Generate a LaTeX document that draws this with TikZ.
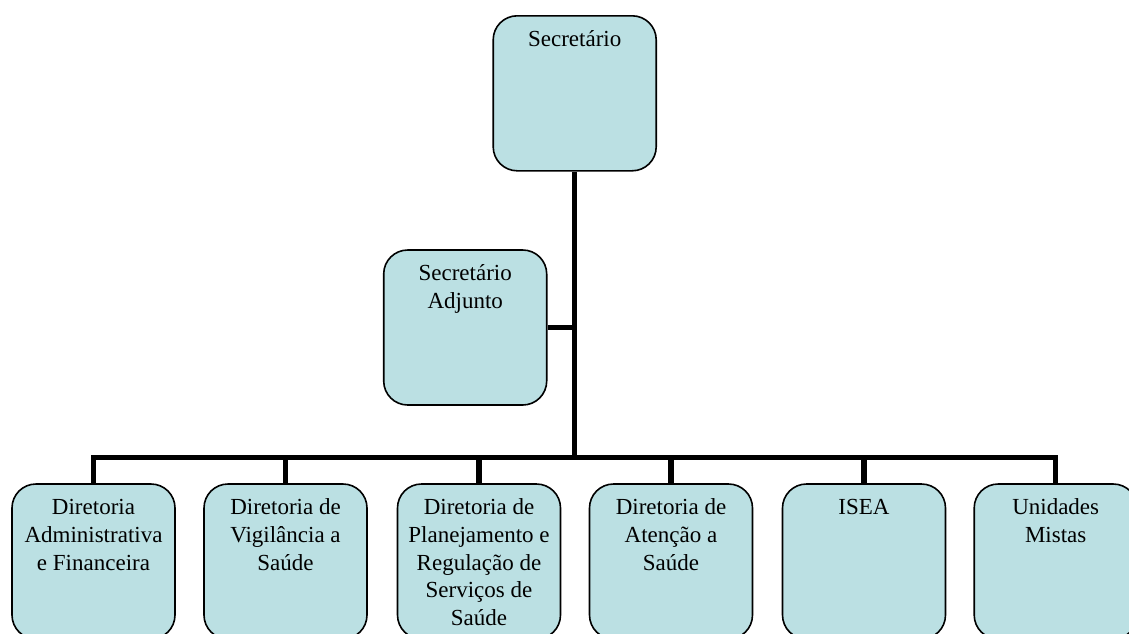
\documentclass[tikz,border=0pt]{standalone}
\usepackage{fontspec}
\setmainfont{Liberation Serif}
\definecolor{boxblue}{RGB}{187, 224, 227}
\tikzset{
    orgbox/.style={draw, line width=1.6pt, fill=boxblue, rounded corners=24pt,
        minimum width=163pt, minimum height=155pt, inner sep=0pt},
    orgtext/.style={anchor=north, align=center, inner sep=0pt, yshift=-12.2pt,
        font=\fontsize{23}{27.6}\selectfont},
    link/.style={line width=5.5pt}
}

\begin{document}
\begin{tikzpicture}[x=1pt, y=-1pt]
            \useasboundingbox (0, 0) rectangle (1129, 633);

            \node[orgbox] (sec) at (574.7, 93.3) {};
            \node[orgtext] (sectxt) at (sec.north) {\strut Secretário};

            \node[orgbox] (adj) at (465.2, 327.5) {};
            \node[orgtext] (adjtxt) at (adj.north) {\strut Secretário\\Adjunto};

            \foreach \i/\cx/\txt in {1/93.5/{Diretoria\\Administrativa\\e Financeira},
                                     2/285.5/{Diretoria de\\Vigilância a\\Saúde},
                                     3/479/{Diretoria de\\Planejamento e\\Regulação de\\Serviços de\\Saúde},
                                     4/671/{Diretoria de\\Atenção a\\Saúde},
                                     5/864/{ISEA},
                                     6/1055.7/{Unidades\\Mistas}} {
                \node[orgbox] (dir\i) at (\cx, 561.5) {};
                \node[orgtext] (dirtxt\i) at (dir\i.north) {\strut\txt};
            }

            \coordinate (hub) at (574.7, 457.5);
            \draw[link] (sec.south) -- (hub);
            \draw[link] (adj.east) -- (adj.east -| hub);
            \draw[link] (dir1.north) -- (dir1.north |- hub) -- (dir6.north |- hub) -- (dir6.north);
            \foreach \i in {2,...,5} {
                \draw[link] (dir\i.north) -- (dir\i.north |- hub);
            }
        \end{tikzpicture}
\end{document}
